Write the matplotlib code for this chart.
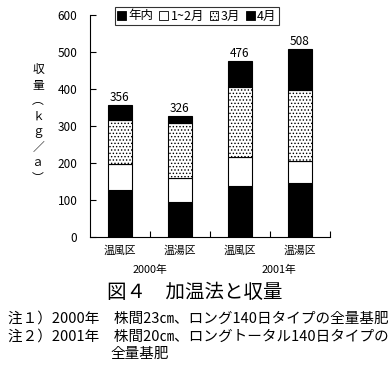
import matplotlib
matplotlib.use("Agg")
import matplotlib.pyplot as plt
from matplotlib.patches import Patch
import numpy as np

plt.rcParams['font.family'] = ['Noto Sans CJK JP', 'DejaVu Sans']
plt.rcParams['hatch.linewidth'] = 0.6

# --- data ---
categories = ['温風区', '温湯区', '温風区', '温湯区']
years = ['2000年', '2001年']
series_names = ['年内', '1~2月', '3月', '4月']
nennai = [128, 95, 138, 147]
jan_feb = [70, 64, 78, 58]
march = [118, 150, 189, 193]
april = [40, 17, 71, 110]
totals = [356, 326, 476, 508]

fig = plt.figure(figsize=(3.89, 3.73), dpi=100)
ax = fig.add_axes([0.231, 0.364, 0.617, 0.596])

x = np.arange(len(categories))
w = 0.41
bottom = np.zeros(len(categories))
styles = [
    dict(facecolor='black', edgecolor='black'),
    dict(facecolor='white', edgecolor='black'),
    dict(facecolor='white', edgecolor='black', hatch='.....'),
    dict(facecolor='black', edgecolor='black'),
]
handles = []
for vals, name, st in zip([nennai, jan_feb, march, april], series_names, styles):
    ax.bar(x, vals, w, bottom=bottom, linewidth=0.8, label=name, **st)
    bottom += np.array(vals)
    handles.append(Patch(linewidth=0.6, label=name, **st))

for xi, t in zip(x, totals):
    ax.text(xi, t + 3, str(t), ha='center', va='bottom', fontsize=8.5)

ax.set_xlim(-0.5, 3.5)
ax.set_ylim(0, 600)
ax.set_yticks(range(0, 601, 100))
ax.spines['top'].set_visible(False)
ax.spines['right'].set_visible(False)
ax.tick_params(axis='y', direction='in', length=4, labelsize=8.5, pad=9)
ax.set_xticks([0.5, 1.5, 2.5, 3.5])
ax.set_xticklabels([])
ax.tick_params(axis='x', which='major', direction='in', length=4)
ax.set_xticks(x, labels=categories, minor=True)
ax.tick_params(axis='x', which='minor', length=0, labelsize=7.8, pad=6)

# year group labels
ax.text(0.5, -0.145, years[0], transform=ax.get_xaxis_transform(), ha='center', va='center', fontsize=7.8)
ax.text(2.65, -0.145, years[1], transform=ax.get_xaxis_transform(), ha='center', va='center', fontsize=7.8)

# vertical y label
ylab = ['収', '量', '︵', 'ｋ', 'ｇ', '／', 'ａ', '︶']
fig.text(38 / 389, 1 - 124 / 373, '\n'.join(ylab), ha='center', va='center', fontsize=8.5, linespacing=1.25)

leg = fig.legend(handles=handles, loc='center', bbox_to_anchor=(197 / 389, 1 - 16 / 373), ncol=4,
                 fontsize=9, handlelength=0.7, handleheight=0.7, handletextpad=0.2, columnspacing=0.45,
                 borderpad=0.2, frameon=True, fancybox=False, edgecolor='black', borderaxespad=0)
leg.get_frame().set_linewidth(0.8)

fig.text(195 / 389, 1 - 293 / 373, '図４　加温法と収量', ha='center', va='center', fontsize=14)
fig.text(8 / 389, 1 - 319 / 373, '注１）2000年　株間23㎝、ロング140日タイプの全量基肥', ha='left', va='center', fontsize=10.5)
fig.text(8 / 389, 1 - 337 / 373, '注２）2001年　株間20㎝、ロングトータル140日タイプの', ha='left', va='center', fontsize=10.5)
fig.text(110 / 389, 1 - 354 / 373, '全量基肥', ha='left', va='center', fontsize=10.5)

fig.savefig('out.png', dpi=100)
